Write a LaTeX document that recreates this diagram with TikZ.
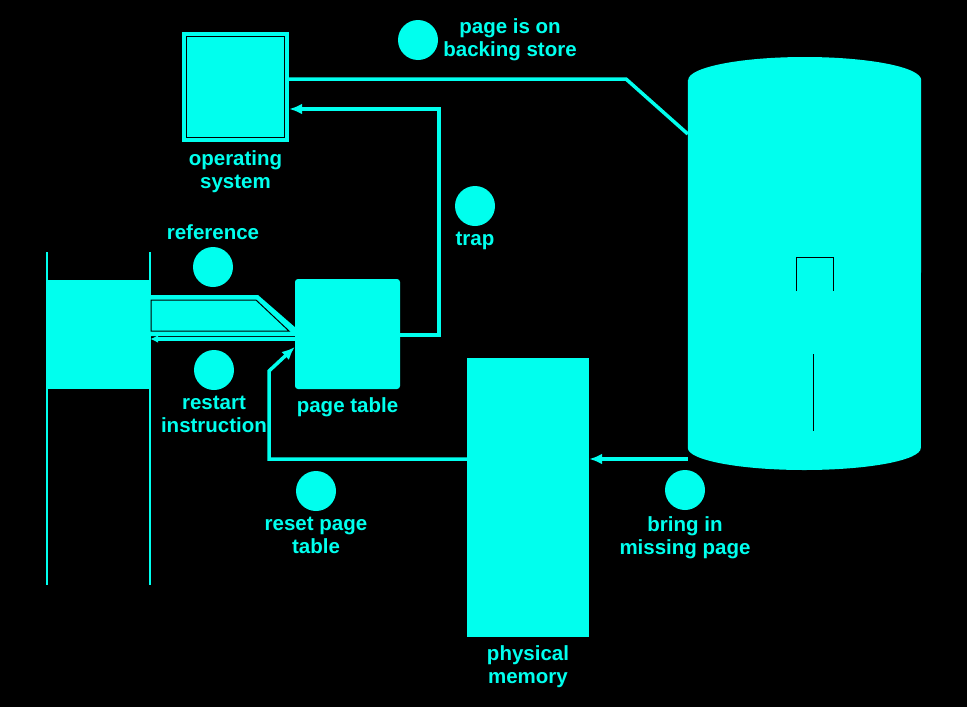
\documentclass[tikz,border=0pt]{standalone}
\usepackage{fontspec}
\setsansfont{Liberation Sans}
\usetikzlibrary{arrows.meta,positioning}
\definecolor{cyani}{RGB}{0,255,238}
\tikzset{
      mybox/.style 2 args={
        fill=cyani,
        inner sep=0pt,
        minimum width=#1,
        minimum height=#2
      },
      mylabel/.style={
        text=cyani,
        font=\sffamily\bfseries\fontsize{20.5}{23}\selectfont,
        align=center,
        inner sep=0pt
      },
      mystep/.style={
        circle,
        fill=cyani,
        inner sep=0pt,
        minimum size=40pt
      },
      myline/.style={
        draw=cyani,
        line width=3.5pt
      },
      myarrow/.style={
        myline,
        -{Latex[length=13pt,width=11pt]}
      },
    }
\begin{document}
\begin{tikzpicture}[x=1pt,y=-1pt,node distance=6pt]
          \fill[black] (0,0) rectangle (967,707);

          % process with its logical memory
          \draw[cyani,line width=2pt] (47,252) -- (47,585) (150,252) -- (150,585);
          \node[mybox={103pt}{109pt}]
            (cpu) at (98.5,334.5)
            {};

          % operating system
          \node[mybox={107pt}{110pt}]
            (os) at (235.5,87)
            {};
          \draw[black,line width=1pt] ([shift={(5,5)}]os.north west)
            rectangle ([shift={(-5,-5)}]os.south east);
          \node[mylabel,below=8pt of os]
            (oslabel)
            {operating\\system};

          % page table
          \node[mybox={105pt}{110pt},rounded corners=3pt]
            (pt) at (347.5,334)
            {};
          \node[mylabel,below=8pt of pt]
            (ptlabel)
            {page table};

          % physical memory
          \node[mybox={122pt}{279pt}]
            (mem) at (528,497.5)
            {};
          \node[mylabel,below=8pt of mem]
            (memlabel)
            {physical\\memory};

          % backing store
          \node[inner sep=0pt,minimum width=233pt,minimum height=413pt]
            (disk) at (804.5,263.5)
            {};
          \fill[cyani] (disk.west |- 0,80) -- (disk.west |- 0,448)
            arc[start angle=180,end angle=360,x radius=116.5pt,y radius=22pt]
            -- (disk.east |- 0,80)
            arc[start angle=0,end angle=180,x radius=116.5pt,y radius=23pt]
            -- cycle;
          \draw[black,line width=1pt] (796,291) -- (796,257) -- (833,257) -- (833,291);
          \draw[black,line width=1pt] (813,354) -- (813,431);

          % steps
          \node[mystep] (step1) at (213,267) {};
          \node[mylabel,above=7pt of step1] (lab1) {reference};
          \node[mystep] (step2) at (475,206) {};
          \node[mylabel,below=6pt of step2] (lab2) {trap};
          \node[mystep] (step3) at (418,40) {};
          \node[mylabel,right=5pt of step3] (lab3) {page is on\\backing store};
          \node[mystep] (step4) at (685,490) {};
          \node[mylabel,below=6pt of step4] (lab4) {bring in\\missing page};
          \node[mystep] (step5) at (316,491) {};
          \node[mylabel,below=6pt of step5] (lab5) {reset page\\table};
          \node[mystep] (step6) at (214,370) {};
          \node[mylabel,below=6pt of step6] (lab6) {restart\\instruction};

          % connectors
          \fill[cyani] (cpu.east |- 0,295) -- (258,295) -- (pt.west |- 0,327)
            -- (pt.west |- 0,336) -- (cpu.east |- 0,336) -- cycle;
          \draw[black,line width=1pt] (151,300) -- (256,300) -- (289,331) -- (151,331) -- cycle;
          \draw[myarrow,-{Latex[length=8pt,width=8pt]}] (pt.west |- 0,339) -- (cpu.east |- 0,339);
          \draw[myarrow] (pt.east |- 0,335) -| (439,109) -- (os.east |- 0,109);
          \draw[myline] (os.east |- 0,79) -- (626,79) -- (disk.west |- 0,134);
          \draw[myarrow] (disk.west |- 0,459) -- (mem.east |- 0,459);
          \draw[myarrow] (mem.west |- 0,459) -| (269,371) -- (pt.west |- 0,347);
        \end{tikzpicture}
\end{document}
